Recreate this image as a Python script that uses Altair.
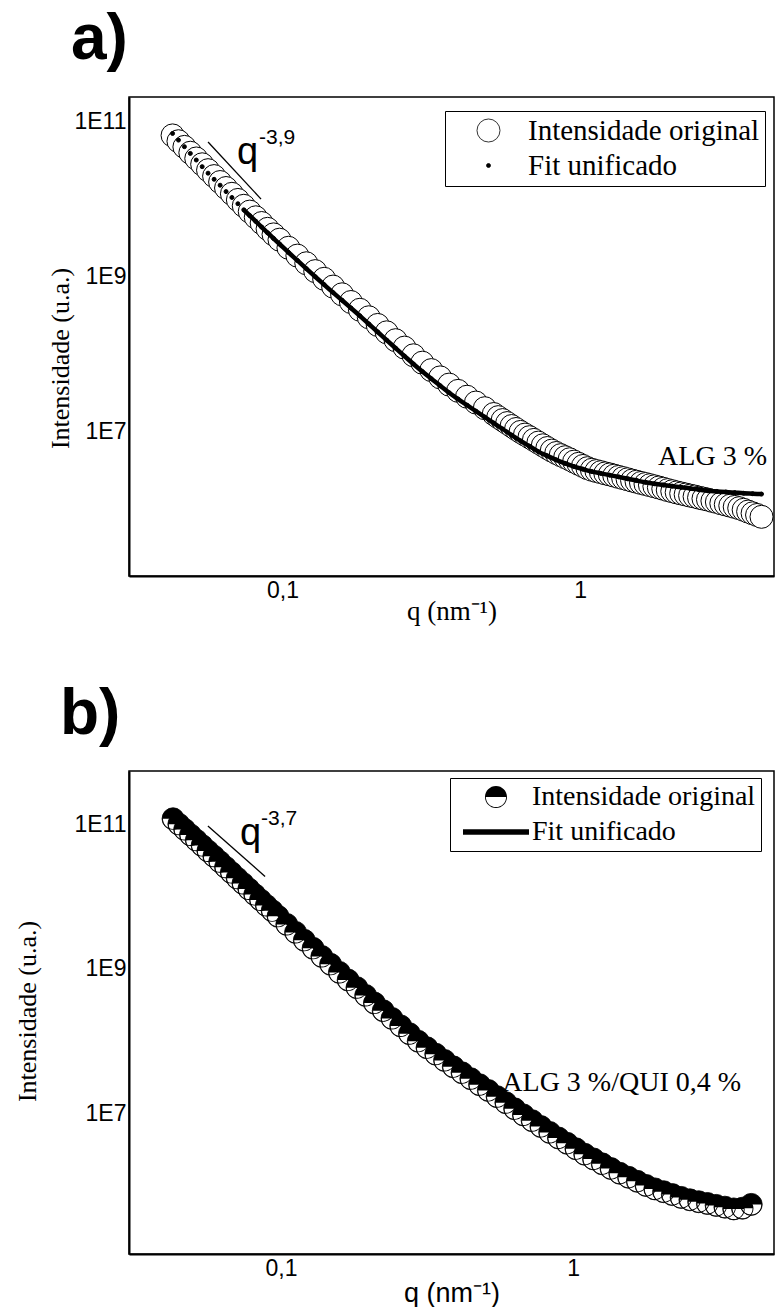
import altair as alt
import pandas as pd

SERIE_ORIG = "Intensidade original"
SERIE_FIT = "Fit unificado"
series = [SERIE_ORIG, SERIE_FIT]

# q grid (nm^-1) used by the fit of a) and the data of b)
q = [0.0427, 0.0447, 0.0468, 0.0490, 0.0513, 0.0537, 0.0562, 0.0589, 0.0617, 0.0646,
     0.0676, 0.0708, 0.0741, 0.0776, 0.0813, 0.0851, 0.0891, 0.0933, 0.0977,
     0.1047, 0.1122, 0.1202, 0.1288, 0.1380, 0.1479, 0.1585, 0.1698, 0.1820, 0.1950,
     0.2089, 0.2239, 0.2399, 0.2570, 0.2754, 0.2951, 0.3162, 0.3388, 0.3631, 0.3890,
     0.4169, 0.4467, 0.4786, 0.5129, 0.5495, 0.5888, 0.6310, 0.6761, 0.7244, 0.7762,
     0.8318, 0.8913, 0.9550, 1.023, 1.096, 1.175, 1.259, 1.349, 1.445, 1.549, 1.660,
     1.778, 1.905, 2.042, 2.188, 2.344, 2.512, 2.692, 2.884, 3.090, 3.311, 3.548, 3.802, 4.074]

# panel a) ALG 3 % -- measured points (denser at high q)
q_a_orig = [0.0427, 0.0447, 0.0468, 0.0490, 0.0513, 0.0537, 0.0562, 0.0589, 0.0617, 0.0646,
            0.0676, 0.0708, 0.0741, 0.0776, 0.0813, 0.0851, 0.0891, 0.0933, 0.0977,
            0.1047, 0.1122, 0.1202, 0.1288, 0.1380, 0.1479, 0.1585, 0.1698, 0.1820, 0.1950,
            0.2089, 0.2239, 0.2399, 0.2570, 0.2754, 0.2951, 0.3162, 0.3388, 0.3631, 0.3890,
            0.4169, 0.4467, 0.4786,
            0.5129, 0.5309, 0.5495, 0.5689, 0.5888, 0.6095, 0.6310, 0.6531, 0.6761, 0.6998,
            0.7244, 0.7499, 0.7762, 0.8035, 0.8318, 0.8610, 0.8913, 0.9226, 0.9550, 0.9886,
            1.023, 1.059, 1.096, 1.135, 1.175, 1.216, 1.259, 1.303, 1.349, 1.396,
            1.445, 1.496, 1.549, 1.603, 1.660, 1.718, 1.778, 1.841, 1.905, 1.972,
            2.042, 2.113, 2.188, 2.265, 2.344, 2.427, 2.512, 2.600, 2.692, 2.786,
            2.884, 2.985, 3.090, 3.199, 3.311, 3.428, 3.548, 3.673, 3.802, 3.936, 4.074]
I_a_orig = [6.62e10, 5.57e10, 4.71e10, 3.96e10, 3.34e10, 2.81e10, 2.36e10, 1.98e10, 1.66e10, 1.39e10,
            1.17e10, 9.76e9, 8.20e9, 6.90e9, 5.83e9, 4.92e9, 4.14e9, 3.51e9, 3.00e9,
            2.36e9, 1.87e9, 1.49e9, 1.18e9, 9.40e8, 7.46e8, 5.93e8, 4.72e8, 3.75e8, 3.00e8,
            2.39e8, 1.92e8, 1.52e8, 1.22e8, 9.71e7, 7.80e7, 6.26e7, 5.04e7, 4.07e7, 3.38e7,
            2.84e7, 2.39e7, 2.02e7,
            1.70e7, 1.55e7, 1.42e7, 1.30e7, 1.19e7, 1.09e7, 1.00e7, 9.23e6, 8.55e6, 7.89e6,
            7.28e6, 6.72e6, 6.20e6, 5.74e6, 5.35e6, 5.02e6, 4.72e6, 4.44e6, 4.14e6, 3.88e6,
            3.64e6, 3.41e6, 3.25e6, 3.13e6, 3.03e6, 2.92e6, 2.83e6, 2.73e6, 2.63e6, 2.54e6,
            2.45e6, 2.36e6, 2.28e6, 2.20e6, 2.13e6, 2.06e6, 1.99e6, 1.92e6, 1.85e6, 1.78e6,
            1.72e6, 1.66e6, 1.61e6, 1.56e6, 1.51e6, 1.47e6, 1.42e6, 1.38e6, 1.34e6, 1.29e6,
            1.25e6, 1.20e6, 1.16e6, 1.12e6, 1.08e6, 1.04e6, 9.91e5, 9.40e5, 8.93e5, 8.50e5, 8.05e5]
I_a_fit = [7.02e10, 5.76e10, 4.74e10, 3.88e10, 3.19e10, 2.62e10, 2.16e10, 1.80e10, 1.51e10, 1.25e10,
           1.05e10, 8.72e9, 7.28e9, 6.13e9, 5.17e9, 4.36e9, 3.68e9, 3.11e9, 2.64e9,
           2.06e9, 1.62e9, 1.27e9, 1.00e9, 7.89e8, 6.24e8, 4.97e8, 3.95e8, 3.13e8, 2.46e8,
           1.94e8, 1.52e8, 1.20e8, 9.48e7, 7.50e7, 5.99e7, 4.85e7, 3.94e7, 3.20e7, 2.65e7,
           2.21e7, 1.85e7, 1.55e7, 1.30e7, 1.09e7, 9.09e6, 7.66e6, 6.54e6, 5.57e6, 4.91e6,
           4.36e6, 3.93e6, 3.58e6, 3.31e6, 3.08e6, 2.92e6, 2.77e6, 2.63e6, 2.49e6, 2.36e6,
           2.24e6, 2.15e6, 2.07e6, 2.00e6, 1.93e6, 1.87e6, 1.80e6, 1.74e6, 1.71e6, 1.68e6,
           1.65e6, 1.62e6, 1.60e6, 1.58e6]

# panel b) ALG 3 %/QUI 0,4 %
I_b_orig = [1.20e11, 1.01e11, 8.53e10, 7.18e10, 6.06e10, 5.11e10, 4.31e10, 3.64e10, 3.06e10, 2.57e10,
            2.16e10, 1.81e10, 1.53e10, 1.28e10, 1.07e10, 9.02e9, 7.59e9, 6.39e9, 5.35e9,
            4.14e9, 3.21e9, 2.49e9, 1.93e9, 1.49e9, 1.16e9, 8.97e8, 7.02e8, 5.51e8, 4.30e8,
            3.37e8, 2.64e8, 2.07e8, 1.63e8, 1.27e8, 9.98e7, 8.12e7, 6.62e7, 5.42e7, 4.42e7,
            3.66e7, 3.03e7, 2.50e7, 2.08e7, 1.71e7, 1.41e7, 1.16e7, 9.56e6, 7.95e6, 6.59e6,
            5.47e6, 4.58e6, 3.86e6, 3.25e6, 2.73e6, 2.35e6, 2.01e6, 1.73e6, 1.49e6, 1.31e6,
            1.15e6, 1.01e6, 9.05e5, 8.27e5, 7.54e5, 6.90e5, 6.39e5, 6.01e5, 5.68e5, 5.35e5,
            5.05e5, 4.78e5, 4.89e5, 5.52e5]
q_b_fit = [0.0427, 0.0562, 0.0741, 0.0977, 0.1288, 0.1698, 0.2239, 0.2951, 0.3890,
           0.5129, 0.6761, 0.8913, 1.175, 1.549, 2.042, 2.692, 3.548, 4.074]
I_b_fit = [1.31e11, 4.73e10, 1.68e10, 5.88e9, 2.12e9, 7.73e8, 2.90e8, 1.10e8, 4.86e7,
           2.28e7, 1.05e7, 5.04e6, 2.58e6, 1.44e6, 9.10e5, 6.62e5, 5.68e5, 5.96e5]

# power-law guide segments
slope_a_q = [0.0562, 0.0847]
slope_a_I = [5.44e10, 1.00e10]
slope_b_q = [0.0562, 0.0882]
slope_b_I = [9.53e10, 1.91e10]

# annotation anchors (data coordinates)
ann_a_q = {"text": ["q"], "q": [0.0703], "I": [2.83e10]}
ann_a_exp = {"text": ["-3,9"], "q": [0.0834], "I": [5.13e10]}
ann_a_name = {"text": ["ALG 3 %"], "q": [4.25], "I": [3.75e6]}
ann_b_q = {"text": ["q"], "q": [0.0724], "I": [5.20e10]}
ann_b_exp = {"text": ["-3,7"], "q": [0.0854], "I": [9.84e10]}
ann_b_name = {"text": ["ALG 3 %/QUI 0,4 %"], "q": [3.76], "I": [2.05e7]}

x_ticks = [0.1, 1]
y_ticks = [1e7, 1e9, 1e11]

X_DOMAIN_A = [0.03048, 4.487]
Y_DOMAIN_A = [1.39e5, 2.07e11]
X_DOMAIN_B = [0.03017, 4.875]
Y_DOMAIN_B = [1.136e5, 5.50e11]

SANS = "Liberation Sans"
SERIF = "Liberation Serif"
HALF_PATH = ("M-1,0A1,1,0,0,1,1,0Z"
             "M-1,0A1,1,0,0,0,1,0L0.92,0A0.92,0.92,0,0,1,-0.92,0Z")


def make_axes(ytx, yty, xfont, xsize, xpad):
    xa = alt.Axis(values=x_ticks, labelExpr="replace(toString(datum.value), '.', ',')",
                  title="q (nm⁻¹)", titleFont=xfont, titleFontSize=xsize,
                  titleFontWeight="normal", titlePadding=xpad, labelPadding=3)
    ya = alt.Axis(values=y_ticks, labelExpr="'1E' + round(log(datum.value) / LN10)",
                  title="Intensidade (u.a.)", titleFont=SERIF, titleFontSize=26,
                  titleFontWeight="normal", titleAngle=270, titleX=ytx, titleY=yty,
                  titleAlign="center", titleBaseline="middle", labelPadding=3)
    return xa, ya


def text_layer(d, xs, ys, font, size, align):
    return alt.Chart(pd.DataFrame(d)).mark_text(
        font=font, fontSize=size, align=align, baseline="alphabetic", color="black"
    ).encode(x=alt.X("q:Q", scale=xs), y=alt.Y("I:Q", scale=ys), text="text:N")


# ---------------- panel a ----------------
xs_a = alt.Scale(type="log", domain=X_DOMAIN_A, nice=False)
ys_a = alt.Scale(type="log", domain=Y_DOMAIN_A, nice=False)
xa_a, ya_a = make_axes(-69, 261, SERIF, 27, -4)

legend_a = alt.Legend(title=None, orient="none", legendX=316, legendY=14, padding=5,
                      strokeColor="black", fillColor="white", labelFont=SERIF,
                      labelFontSize=29, labelColor="black", labelLimit=400, rowPadding=5,
                      symbolOffset=24, labelOffset=25, symbolStrokeWidth=0.8)

df_a = pd.DataFrame({"q": q_a_orig + q, "I": I_a_orig + I_a_fit,
                     "serie": [SERIE_ORIG] * len(q_a_orig) + [SERIE_FIT] * len(q)})
pts_a = alt.Chart(df_a).mark_point(filled=True, opacity=1, shape="circle",
                                   strokeWidth=1.0).encode(
    x=alt.X("q:Q", scale=xs_a, axis=xa_a),
    y=alt.Y("I:Q", scale=ys_a, axis=ya_a),
    fill=alt.Fill("serie:N", scale=alt.Scale(domain=series, range=["white", "black"]),
                  legend=legend_a),
    stroke=alt.Stroke("serie:N", scale=alt.Scale(domain=series, range=["black", "black"]),
                      legend=legend_a),
    size=alt.Size("serie:N", scale=alt.Scale(type="ordinal", domain=series, range=[530, 16]),
                  legend=legend_a),
)
# the dense fit dots merge into a solid trace beyond the first few points
fit_a = alt.Chart(pd.DataFrame({"q": q, "I": I_a_fit})).transform_filter(
    alt.datum.q >= 0.074).mark_line(color="black", strokeWidth=4.5, interpolate="monotone").encode(
    x=alt.X("q:Q", scale=xs_a), y=alt.Y("I:Q", scale=ys_a))
slope_a = alt.Chart(pd.DataFrame({"q": slope_a_q, "I": slope_a_I})).mark_line(
    color="black", strokeWidth=1.3).encode(x=alt.X("q:Q", scale=xs_a), y=alt.Y("I:Q", scale=ys_a))

panel_a = alt.layer(
    pts_a, fit_a, slope_a,
    text_layer(ann_a_q, xs_a, ys_a, SANS, 38, "left"),
    text_layer(ann_a_exp, xs_a, ys_a, SANS, 21, "left"),
    text_layer(ann_a_name, xs_a, ys_a, SERIF, 28, "right"),
).properties(
    width=645, height=479,
    title=alt.TitleParams("a)", anchor="start", frame="group", font=SANS, fontSize=64,
                          fontWeight="bold", color="black", dx=-58, offset=25),
)

# ---------------- panel b ----------------
xs_b = alt.Scale(type="log", domain=X_DOMAIN_B, nice=False)
ys_b = alt.Scale(type="log", domain=Y_DOMAIN_B, nice=False)
xa_b, ya_b = make_axes(-102, 240, SANS, 27, 0)

legend_b = alt.Legend(title=None, orient="none", legendX=321, legendY=7, padding=5,
                      strokeColor="black", fillColor="white", labelFont=SERIF,
                      labelFontSize=28, labelColor="black", labelLimit=400, rowPadding=7,
                      clipHeight=28, symbolOffset=5, labelOffset=0)

df_b = pd.DataFrame({"q": q, "I": I_b_orig, "serie": [SERIE_ORIG] * len(q)})
white_b = alt.Chart(df_b).mark_point(filled=True, shape="circle", fill="white", stroke="black",
                                     strokeWidth=0.8, size=484, opacity=1).encode(
    x=alt.X("q:Q", scale=xs_b, axis=xa_b),
    y=alt.Y("I:Q", scale=ys_b, axis=ya_b),
)
tops_b = alt.Chart(df_b).mark_point(filled=True, fill="black", opacity=1).encode(
    x=alt.X("q:Q", scale=xs_b),
    y=alt.Y("I:Q", scale=ys_b),
    shape=alt.Shape("serie:N", scale=alt.Scale(domain=series, range=[HALF_PATH, "stroke"]),
                    legend=legend_b),
    stroke=alt.Stroke("serie:N", scale=alt.Scale(domain=series, range=["black", "black"]),
                      legend=legend_b),
    size=alt.Size("serie:N", scale=alt.Scale(type="ordinal", domain=series, range=[484, 4356]),
                  legend=legend_b),
    strokeWidth=alt.StrokeWidth("serie:N", scale=alt.Scale(type="ordinal", domain=series,
                                                           range=[0, 5.5]), legend=legend_b),
)
fit_b = alt.Chart(pd.DataFrame({"q": q_b_fit, "I": I_b_fit})).mark_line(
    color="black", strokeWidth=5, interpolate="monotone").encode(
    x=alt.X("q:Q", scale=xs_b), y=alt.Y("I:Q", scale=ys_b))
slope_b = alt.Chart(pd.DataFrame({"q": slope_b_q, "I": slope_b_I})).mark_line(
    color="black", strokeWidth=1.3).encode(x=alt.X("q:Q", scale=xs_b), y=alt.Y("I:Q", scale=ys_b))

panel_b = alt.layer(
    white_b, tops_b, fit_b, slope_b,
    text_layer(ann_b_q, xs_b, ys_b, SANS, 38, "left"),
    text_layer(ann_b_exp, xs_b, ys_b, SANS, 21, "left"),
    text_layer(ann_b_name, xs_b, ys_b, SERIF, 28, "right"),
).properties(
    width=645, height=483,
    title=alt.TitleParams("b)", anchor="start", frame="group", font=SANS, fontSize=64,
                          fontWeight="bold", color="black", dx=-69, offset=24),
)

chart = alt.vconcat(panel_a, panel_b, spacing=57).resolve_scale(
    x="independent", y="independent", fill="independent", size="independent",
    shape="independent", strokeWidth="independent", stroke="independent"
).resolve_legend(fill="independent", size="independent", shape="independent",
                 strokeWidth="independent", stroke="independent").properties(
    padding={"left": 13, "top": 7, "right": 0, "bottom": 0},
    background="white",
).configure_view(stroke="black", strokeWidth=1.5).configure_axis(
    domainColor="black", domainWidth=2, ticks=False, tickSize=0, grid=False,
    labelFont=SANS, labelFontSize=23, labelColor="black", titleColor="black",
    labelFlush=False, labelOverlap=False,
)

chart.save("out.html", embed_options={"renderer": "svg", "actions": False})
